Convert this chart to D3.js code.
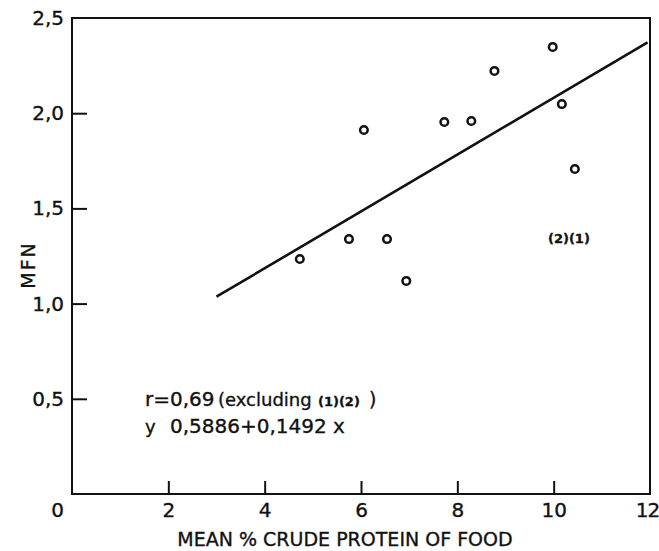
<!DOCTYPE html>
<html><head><meta charset="utf-8">
<script src="https://cdn.jsdelivr.net/npm/d3@7"></script>
<style>body{margin:0;background:#fff}svg{display:block}text{font-family:"DejaVu Sans",sans-serif;fill:#111;stroke:#111;stroke-width:0.35px}</style>
</head><body>
<script>
const proteinX = [4.73, 5.75, 6.06, 6.54, 6.94, 7.73, 8.29, 8.77, 9.98, 10.17, 10.44];
const mfnY     = [1.234, 1.339, 1.912, 1.339, 1.119, 1.954, 1.959, 2.222, 2.348, 2.048, 1.707];
const xTicks = [0, 2, 4, 6, 8, 10, 12];
const yTicks = [0.5, 1.0, 1.5, 2.0, 2.5];
const yTickLabels = ["0,5", "1,0", "1,5", "2,0", "2,5"];
const fitIntercept = 0.5886, fitSlope = 0.1492;
const fitRange = [3.0, 11.95];

const W = 659, H = 551;
const m = {left: 72, right: 9, top: 18, bottom: 57};
const svg = d3.select("body").append("svg").attr("width", W).attr("height", H);
const x = d3.scaleLinear().domain([0, 12]).range([m.left, W - m.right]);
const y = d3.scaleLinear().domain([0, 2.5]).range([H - m.bottom, m.top]);

// frame
svg.append("rect").attr("x", x(0)).attr("y", y(2.5)).attr("width", x(12) - x(0)).attr("height", y(0) - y(2.5))
  .attr("fill", "none").attr("stroke", "#111").attr("stroke-width", 2);

// x axis ticks (inside)
const xa = svg.append("g").attr("transform", `translate(0,${y(0)})`)
  .call(d3.axisBottom(x).tickValues(xTicks).tickSizeInner(-13).tickSizeOuter(0).tickPadding(9).tickFormat(d3.format("d")));
xa.select(".domain").remove();
xa.selectAll("line").attr("stroke", "#111").attr("stroke-width", 2);
xa.selectAll("text").attr("font-size", 20).attr("fill", "#111").style("font-family", "DejaVu Sans");
xa.selectAll(".tick").filter(d => d === 0).select("text").attr("dx", -15);
xa.selectAll(".tick").filter(d => d === 12).select("text").attr("dx", -3).attr("letter-spacing", -1);
xa.selectAll(".tick").filter(d => d === 0 || d === 12).select("line").remove();

// y axis ticks (inside)
const ya = svg.append("g").attr("transform", `translate(${x(0)},0)`)
  .call(d3.axisLeft(y).tickValues(yTicks).tickSizeInner(-15).tickSizeOuter(0).tickPadding(8)
    .tickFormat((d, i) => yTickLabels[i]));
ya.select(".domain").remove();
ya.selectAll("line").attr("stroke", "#111").attr("stroke-width", 2);
ya.selectAll(".tick").filter(d => d === 2.5).select("line").remove();
ya.selectAll("text").attr("font-size", 20).attr("fill", "#111").style("font-family", "DejaVu Sans");

// regression line
const fitPts = fitRange.map(v => [v, fitIntercept + fitSlope * v]);
svg.append("path").datum(fitPts)
  .attr("d", d3.line().x(d => x(d[0])).y(d => y(d[1])))
  .attr("stroke", "#111").attr("stroke-width", 2.6).attr("fill", "none");

// points
svg.append("g").selectAll("circle").data(proteinX.map((v, i) => [v, mfnY[i]])).join("circle")
  .attr("cx", d => x(d[0])).attr("cy", d => y(d[1])).attr("r", 3.8)
  .attr("fill", "#fff").attr("stroke", "#111").attr("stroke-width", 2.5);

// annotation (2)(1)
svg.append("text").attr("x", 548).attr("y", 243).attr("font-size", 13).attr("font-weight", "bold").text("(2)(1)");

// stats text
svg.append("text").attr("x", 145).attr("y", 406).attr("font-size", 20).text("r=0,69");
svg.append("text").attr("x", 218).attr("y", 406).attr("font-size", 18).text("(excluding");
svg.append("text").attr("x", 318).attr("y", 406).attr("font-size", 13).attr("font-weight", "bold").text("(1)(2)");
svg.append("text").attr("x", 369).attr("y", 406).attr("font-size", 19).text(")");
svg.append("text").attr("x", 145).attr("y", 433).attr("font-size", 18).text("y");
svg.append("text").attr("x", 170).attr("y", 433).attr("font-size", 20).text("0,5886+0,1492 x");

// axis titles
svg.append("text").attr("x", 345).attr("y", 546).attr("text-anchor", "middle").attr("font-size", 19)
  .text("MEAN % CRUDE PROTEIN OF FOOD");
svg.append("text").attr("transform", "translate(35,265) rotate(-90)").attr("text-anchor", "middle")
  .attr("font-size", 19).attr("letter-spacing", 2).text("MFN");
</script>
</body></html>
